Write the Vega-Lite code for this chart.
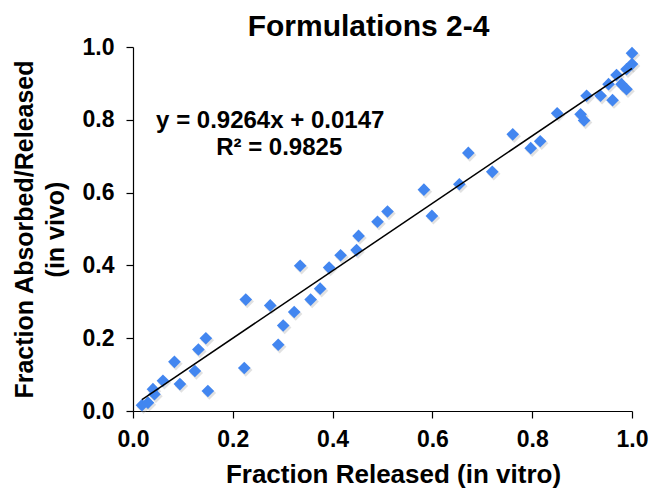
{
  "$schema": "https://vega.github.io/schema/vega-lite/v6.json",
  "width": 499,
  "height": 364,
  "autosize": {"type": "none"},
  "padding": {"left": 133, "top": 47, "right": 22, "bottom": 87},
  "background": "white",
  "title": {
    "text": "Formulations 2-4",
    "font": "Liberation Sans",
    "fontSize": 30,
    "fontWeight": "bold",
    "color": "black",
    "anchor": "middle",
    "frame": "group",
    "dx": -14,
    "offset": -6
  },
  "config": {
    "view": {"stroke": null},
    "axis": {
      "grid": false,
      "domainColor": "black",
      "domainWidth": 1.2,
      "tickColor": "black",
      "tickWidth": 1.2,
      "tickSize": 7,
      "labelFont": "Liberation Sans",
      "labelFontSize": 23,
      "labelFontWeight": "bold",
      "labelColor": "black",
      "titleFont": "Liberation Sans",
      "titleFontSize": 25,
      "titleFontWeight": "bold",
      "titleColor": "black"
    }
  },
  "datasets": {
    "pts": [
      {"x": 0.018, "y": 0.016}, {"x": 0.030, "y": 0.023}, {"x": 0.043, "y": 0.046},
      {"x": 0.040, "y": 0.060}, {"x": 0.060, "y": 0.083}, {"x": 0.083, "y": 0.135},
      {"x": 0.094, "y": 0.074}, {"x": 0.124, "y": 0.110}, {"x": 0.131, "y": 0.169},
      {"x": 0.146, "y": 0.200}, {"x": 0.150, "y": 0.055}, {"x": 0.223, "y": 0.118},
      {"x": 0.226, "y": 0.306}, {"x": 0.275, "y": 0.290}, {"x": 0.291, "y": 0.182},
      {"x": 0.301, "y": 0.235}, {"x": 0.323, "y": 0.272}, {"x": 0.335, "y": 0.399},
      {"x": 0.356, "y": 0.306}, {"x": 0.375, "y": 0.336}, {"x": 0.393, "y": 0.394},
      {"x": 0.416, "y": 0.428}, {"x": 0.448, "y": 0.442}, {"x": 0.452, "y": 0.481},
      {"x": 0.490, "y": 0.520}, {"x": 0.510, "y": 0.548}, {"x": 0.583, "y": 0.608},
      {"x": 0.599, "y": 0.536}, {"x": 0.654, "y": 0.623}, {"x": 0.672, "y": 0.709},
      {"x": 0.720, "y": 0.657}, {"x": 0.761, "y": 0.760}, {"x": 0.797, "y": 0.722},
      {"x": 0.816, "y": 0.741}, {"x": 0.850, "y": 0.818}, {"x": 0.897, "y": 0.815},
      {"x": 0.904, "y": 0.798}, {"x": 0.909, "y": 0.866}, {"x": 0.937, "y": 0.866},
      {"x": 0.961, "y": 0.854}, {"x": 0.953, "y": 0.898}, {"x": 0.969, "y": 0.923},
      {"x": 0.979, "y": 0.898}, {"x": 0.989, "y": 0.884}, {"x": 0.989, "y": 0.939},
      {"x": 1.000, "y": 0.953}, {"x": 1.000, "y": 0.983}
    ],
    "fit": [
      {"x": 0.018, "y": 0.0314},
      {"x": 1.0, "y": 0.9411}
    ],
    "labels": [
      {"x": 0.275, "y": 0.797, "text": "y = 0.9264x + 0.0147"},
      {"x": 0.293, "y": 0.7225, "text": "R² = 0.9825"}
    ]
  },
  "encoding": {
    "x": {
      "field": "x",
      "type": "quantitative",
      "scale": {"domain": [0, 1], "nice": false, "zero": false},
      "axis": {
        "title": "Fraction Released (in vitro)",
        "titleFontSize": 26,
        "values": [0, 0.2, 0.4, 0.6, 0.8, 1.0],
        "format": ".1f",
        "labelPadding": 10,
        "titlePadding": 10,
        "titleX": 260,
        "titleAlign": "center",
        "labelFlush": false
      }
    },
    "y": {
      "field": "y",
      "type": "quantitative",
      "scale": {"domain": [0, 1], "nice": false, "zero": false},
      "axis": {
        "title": ["Fraction Absorbed/Released", "(in vivo)"],
        "titleLineHeight": 31,
        "values": [0, 0.2, 0.4, 0.6, 0.8, 1.0],
        "format": ".1f",
        "labelPadding": 12,
        "titlePadding": 14,
        "labelFlush": false
      }
    }
  },
  "layer": [
    {
      "data": {"name": "pts"},
      "mark": {"type": "point", "shape": "diamond", "filled": true, "size": 180, "color": "#9a9a9a", "opacity": 0.3, "xOffset": 1.5, "yOffset": 2},
      "encoding": {}
    },
    {
      "data": {"name": "pts"},
      "mark": {"type": "point", "shape": "diamond", "filled": true, "size": 160, "color": "#4286f0", "opacity": 1},
      "encoding": {}
    },
    {
      "data": {"name": "fit"},
      "mark": {"type": "line", "color": "black", "strokeWidth": 1.5},
      "encoding": {}
    },
    {
      "data": {"name": "labels"},
      "mark": {"type": "text", "font": "Liberation Sans", "fontSize": 24, "fontWeight": "bold", "color": "black", "align": "center", "baseline": "middle"},
      "encoding": {"text": {"field": "text"}}
    }
  ]
}
